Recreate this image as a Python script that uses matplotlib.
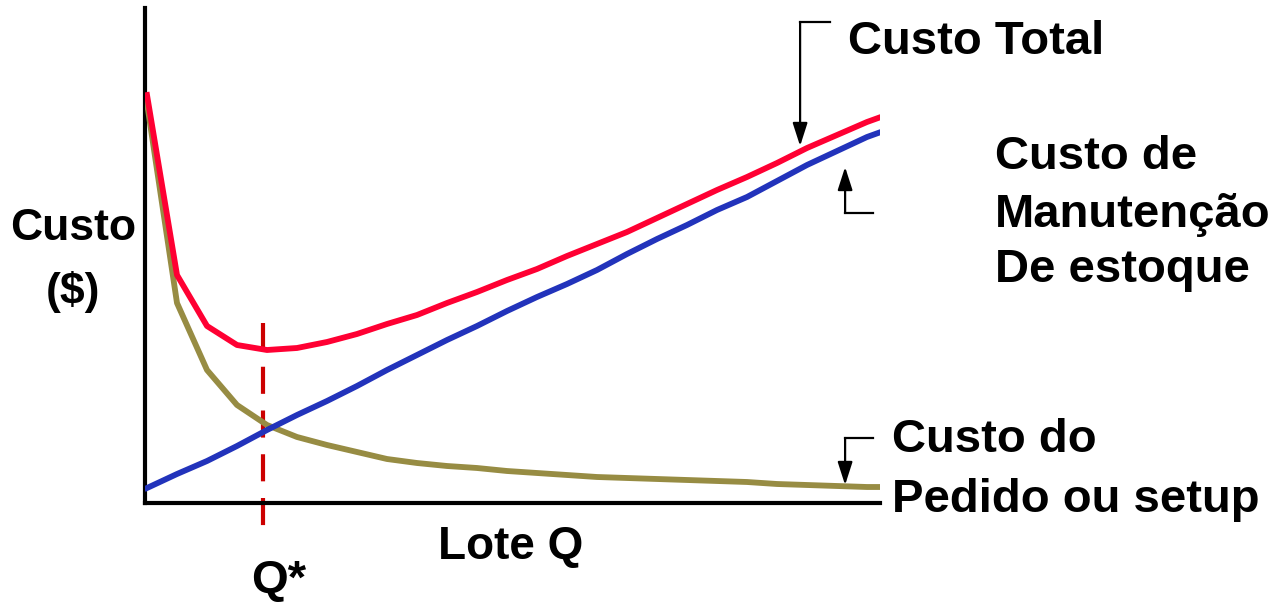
import matplotlib
matplotlib.use("Agg")
import matplotlib.pyplot as plt

# lote Q (unidades arbitrarias) e custos
lote = [0, 1, 2, 3, 4, 5, 6, 7, 8, 9, 10, 11, 12, 13, 14, 15, 16, 17, 18, 19,
        20, 21, 22, 23, 24, 24.37]
custo_total = [40.8, 22.8, 17.7, 15.8, 15.3, 15.5, 16.1, 16.9, 17.9, 18.8, 20.0,
               21.1, 22.3, 23.4, 24.7, 25.9, 27.1, 28.5, 29.9, 31.3, 32.6, 34.0,
               35.5, 36.8, 38.1, 38.5]
custo_manut = [1.5, 2.9, 4.2, 5.7, 7.3, 8.8, 10.2, 11.7, 13.3, 14.8, 16.3, 17.7,
               19.2, 20.6, 21.9, 23.3, 24.9, 26.4, 27.8, 29.3, 30.6, 32.2, 33.8,
               35.2, 36.6, 37.0]
custo_pedido = [40.0, 20.0, 13.3, 9.8, 7.8, 6.6, 5.8, 5.1, 4.4, 4.0, 3.7, 3.5,
                3.2, 3.0, 2.8, 2.6, 2.5, 2.4, 2.3, 2.2, 2.1, 1.9, 1.8, 1.7, 1.6, 1.6]
q_otimo = 3.87

plt.rcParams['font.family'] = ['Liberation Sans', 'DejaVu Sans']
fs = 34

fig = plt.figure(figsize=(12.84, 6.02), dpi=100)
ax = fig.add_axes([145 / 1284, 99 / 602, 735 / 1284, 495 / 602])
ax.set_xlim(-2 / 30, 733 / 30)
ax.set_ylim(0, 49.5)

ax.plot(lote, custo_pedido, color="#978c43", lw=4.2, zorder=3)
ax.plot(lote, custo_manut, color="#2233bb", lw=4.2, zorder=4)
ax.plot(lote, custo_total, color="#ff0033", lw=4.2, zorder=5)
ax.plot([q_otimo, q_otimo], [18.0, -2.7], color="#cc0000", lw=3,
        dashes=(6.5, 4), clip_on=False, zorder=2)

for s in ["top", "right"]:
    ax.spines[s].set_visible(False)
for s in ["left", "bottom"]:
    ax.spines[s].set_linewidth(3)
    ax.spines[s].set_color("black")
ax.set_xticks([])
ax.set_yticks([])

# textos
kw = dict(fontweight="bold", color="black")
ax.text(-2.45, 27.5, "Custo", ha="center", va="center", fontsize=32, **kw)
ax.text(-2.45, 21.1, "($)", ha="center", va="center", fontsize=32, **kw)
ax.text(12.13, -4.4, "Lote Q", ha="center", va="center", fontsize=33, **kw)
ax.text(4.4, -7.8, "Q*", ha="center", va="center", fontsize=fs, **kw)
ax.text(23.37, 46.1, "Custo Total", ha="left", va="center", fontsize=fs, **kw)
ax.text(28.27, 34.6, "Custo de", ha="left", va="center", fontsize=fs, **kw)
ax.text(28.27, 28.8, "Manutenção", ha="left", va="center", fontsize=fs, **kw)
ax.text(28.27, 23.3, "De estoque", ha="left", va="center", fontsize=fs, **kw)
ax.text(24.83, 6.3, "Custo do", ha="left", va="center", fontsize=fs, **kw)
ax.text(24.83, 0.3, "Pedido ou setup", ha="left", va="center", fontsize=fs, **kw)

# setas
aprops = dict(arrowstyle="-|>,head_length=1.4,head_width=0.45", color="black",
              lw=1.6, shrinkA=0, shrinkB=0)
ax.plot([22.77, 21.77], [48.1, 48.1], color="black", lw=1.6, clip_on=False)
ax.annotate("", xy=(21.77, 35.7), xytext=(21.77, 48.1), arrowprops=aprops,
            annotation_clip=False)
ax.plot([24.2, 23.27], [29.0, 29.0], color="black", lw=1.6, clip_on=False)
ax.annotate("", xy=(23.27, 33.6), xytext=(23.27, 29.0), arrowprops=aprops,
            annotation_clip=False)
ax.plot([24.2, 23.27], [6.5, 6.5], color="black", lw=1.6, clip_on=False)
ax.annotate("", xy=(23.27, 1.8), xytext=(23.27, 6.5), arrowprops=aprops,
            annotation_clip=False)

fig.savefig("out.png", dpi=100)
